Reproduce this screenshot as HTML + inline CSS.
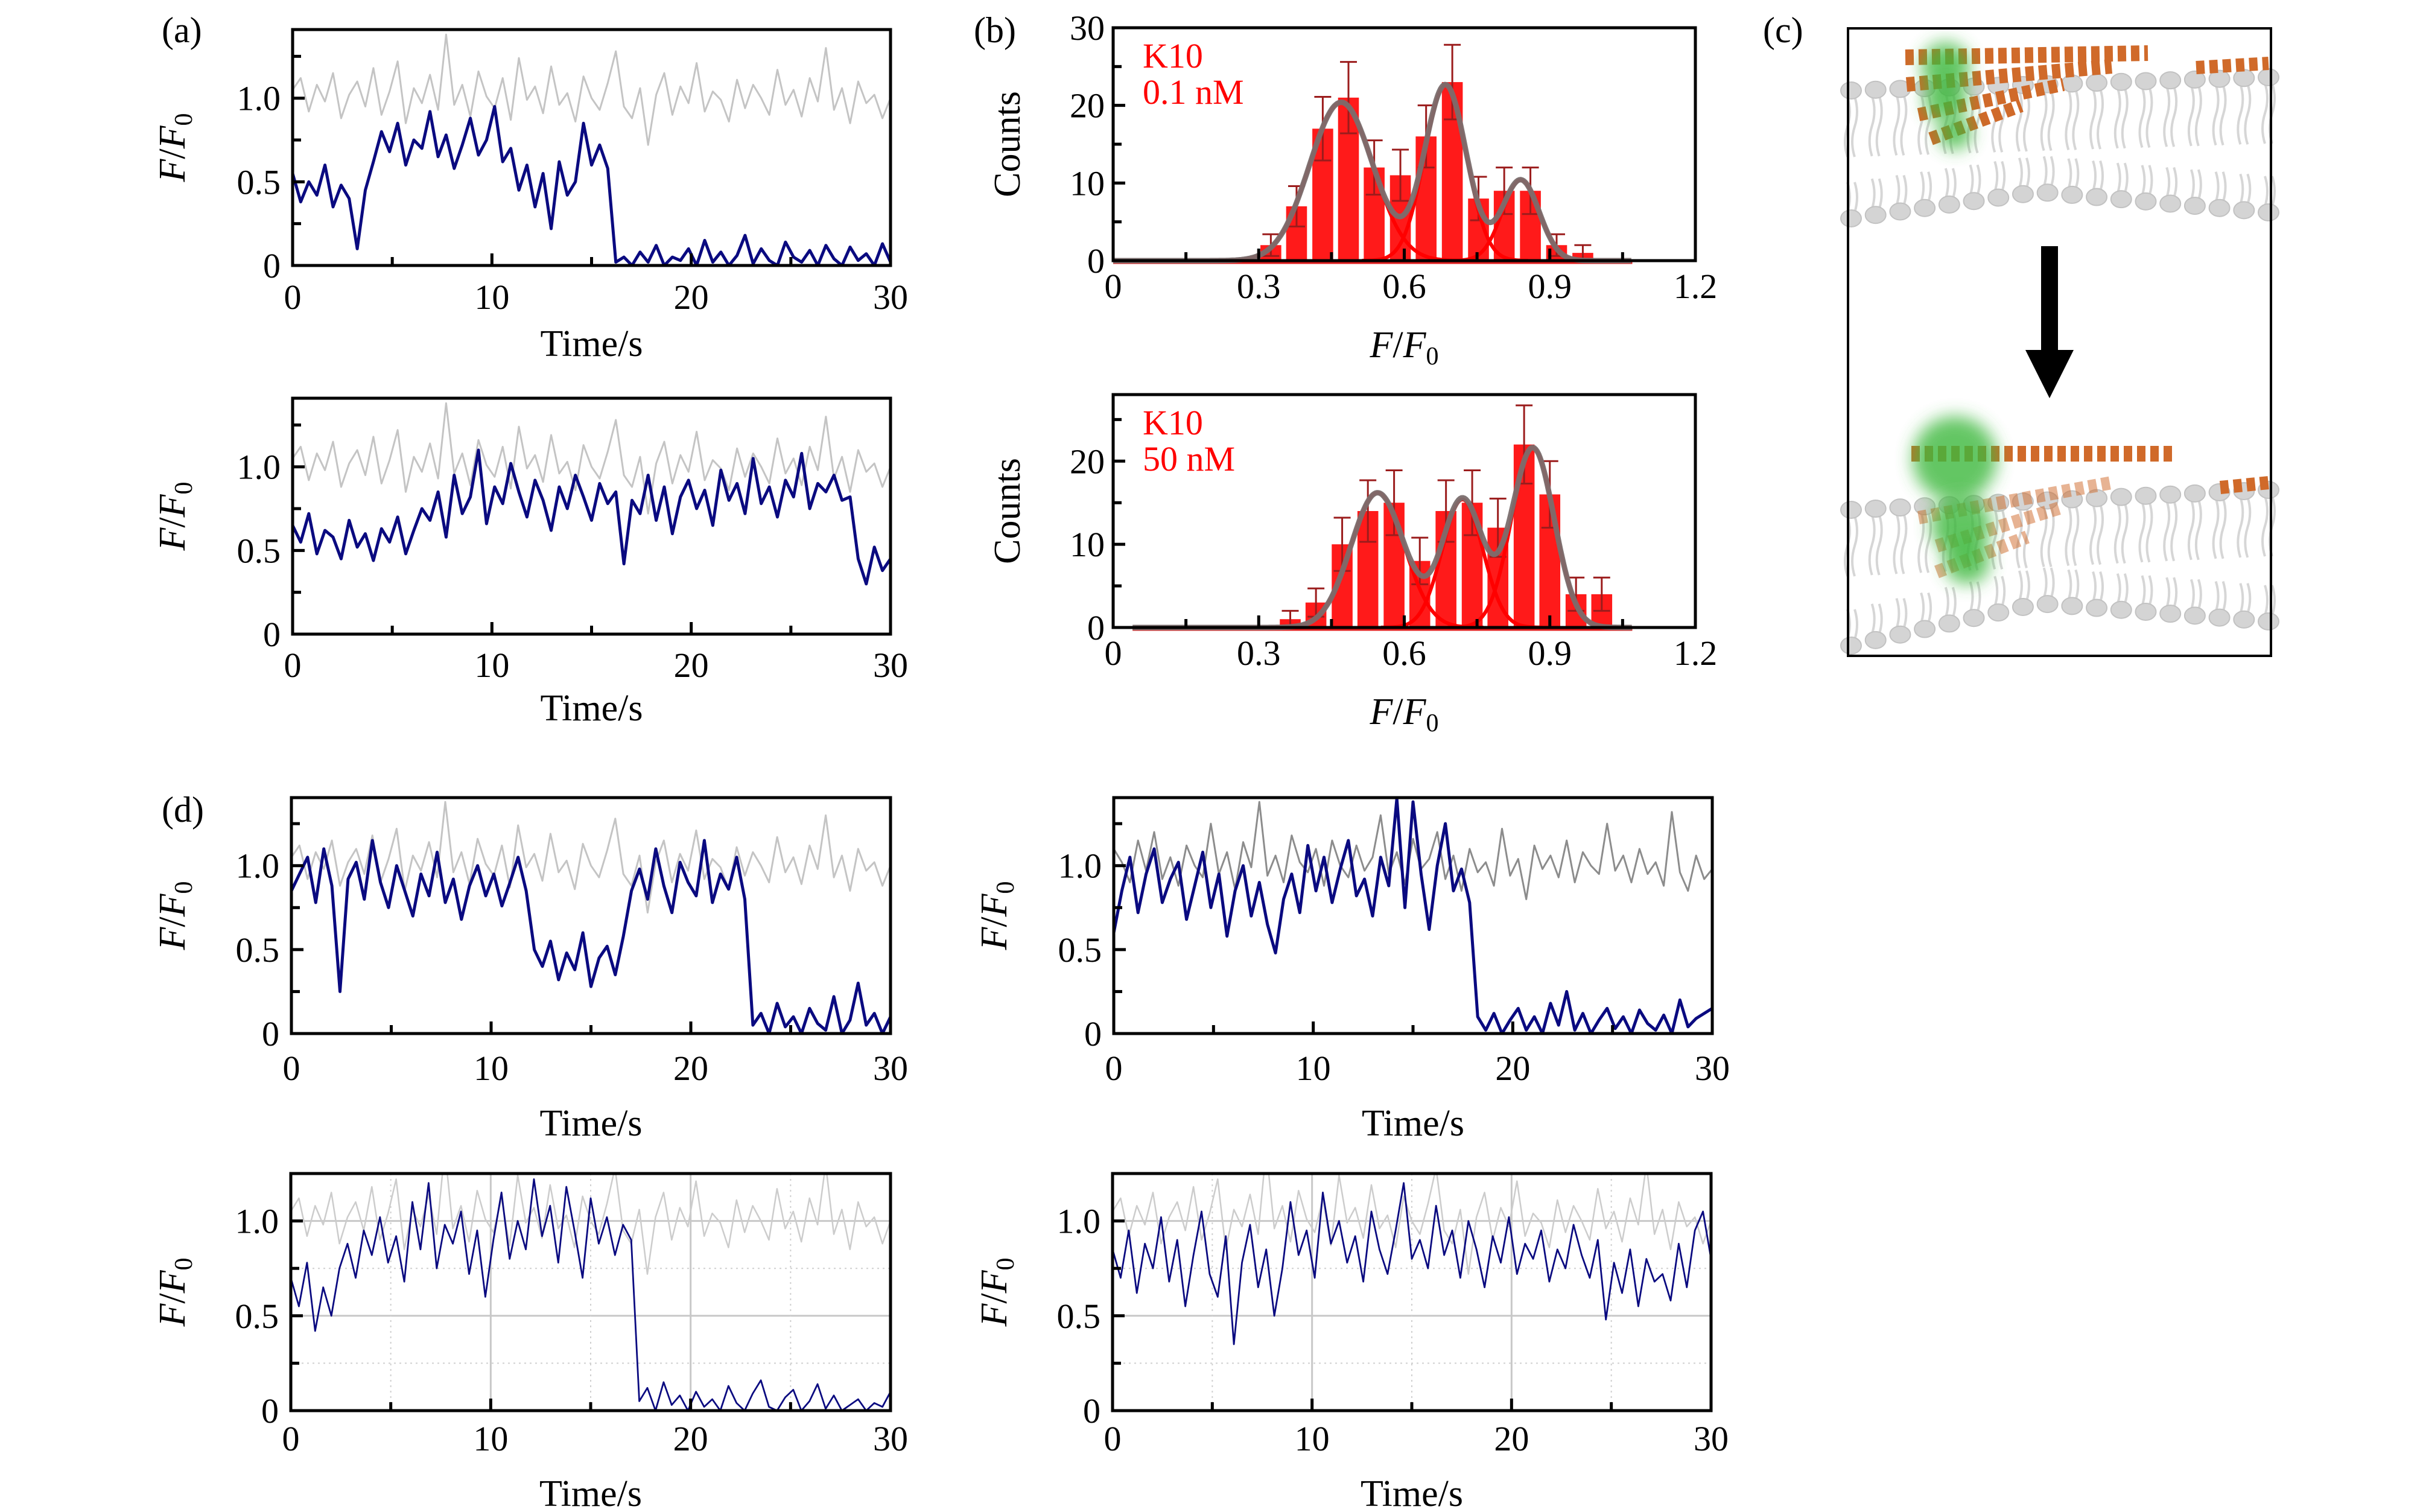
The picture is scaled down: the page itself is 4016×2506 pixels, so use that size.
<!DOCTYPE html>
<html><head><meta charset="utf-8"><style>
html,body{margin:0;padding:0;background:#fff}
svg{display:block}
text{font-family:"Liberation Serif",serif;fill:#000}
</style></head><body>
<svg id="fig" xmlns="http://www.w3.org/2000/svg" width="4016" height="2506" viewBox="0 0 4016 2506">
<defs>
<filter id="blur" x="-50%" y="-50%" width="200%" height="200%"><feGaussianBlur stdDeviation="14"/></filter>
</defs>
<g id="root"></g>
</svg>
<script>
// ---------- data ----------
const grayTrace = [1.05,1.12,0.92,1.08,0.98,1.15,0.88,1.02,1.10,0.95,1.18,0.90,1.04,1.22,0.85,1.06,0.97,1.14,0.93,1.38,0.96,1.08,0.89,1.16,1.01,0.94,1.12,0.87,1.24,0.99,1.07,0.91,1.19,0.96,1.03,0.86,1.13,1.00,0.93,1.09,1.28,0.95,0.88,1.06,0.72,1.02,1.15,0.90,1.07,0.97,1.21,0.92,1.04,0.99,0.86,1.11,0.94,1.08,1.00,0.90,1.17,0.96,1.05,0.89,1.12,0.98,1.30,0.93,1.06,0.85,1.10,0.97,1.02,0.88,1.00];
const grayTraceD2 = [1.10,1.02,0.90,1.15,0.97,1.20,0.92,1.05,0.88,1.12,1.00,0.93,1.25,0.95,1.08,0.86,1.14,0.99,1.38,0.94,1.06,0.90,1.18,1.02,0.96,1.10,0.88,1.15,1.00,0.93,1.12,0.97,1.05,1.30,0.95,1.08,0.89,1.16,0.98,1.04,1.20,0.92,1.06,0.85,1.10,0.96,1.02,0.88,1.22,0.94,1.04,0.80,1.12,0.98,1.06,0.93,1.15,0.90,1.08,1.00,0.95,1.25,0.97,1.06,0.90,1.10,0.95,1.02,0.88,1.32,0.96,0.85,1.06,0.92,0.98];
const traceA1 = [0.55,0.38,0.50,0.42,0.60,0.35,0.48,0.40,0.10,0.45,0.62,0.80,0.68,0.85,0.60,0.75,0.70,0.92,0.65,0.78,0.58,0.72,0.88,0.66,0.75,0.95,0.62,0.70,0.45,0.60,0.35,0.55,0.22,0.62,0.42,0.50,0.85,0.60,0.72,0.58,0.02,0.05,0.00,0.08,0.02,0.12,0.00,0.05,0.03,0.10,0.00,0.15,0.02,0.08,0.00,0.06,0.18,0.01,0.10,0.03,0.00,0.14,0.05,0.02,0.09,0.00,0.12,0.04,0.00,0.11,0.03,0.07,0.00,0.13,0.02];
const traceA2 = [0.65,0.55,0.72,0.48,0.62,0.58,0.45,0.68,0.52,0.60,0.44,0.63,0.55,0.70,0.48,0.62,0.75,0.68,0.85,0.58,0.95,0.72,0.82,1.10,0.66,0.88,0.78,1.02,0.85,0.70,0.92,0.80,0.62,0.88,0.75,0.95,0.82,0.68,0.90,0.78,0.85,0.42,0.80,0.72,0.95,0.68,0.88,0.60,0.82,0.92,0.75,0.86,0.65,0.98,0.80,0.90,0.72,1.05,0.78,0.88,0.70,0.92,0.82,1.08,0.75,0.90,0.85,0.95,0.80,0.82,0.45,0.30,0.52,0.38,0.45];
const traceD1 = [0.85,0.95,1.05,0.78,1.10,0.88,0.25,0.92,1.02,0.80,1.15,0.90,0.75,1.00,0.85,0.70,0.95,0.82,1.08,0.78,0.92,0.68,0.88,1.00,0.82,0.95,0.76,0.90,1.05,0.85,0.50,0.40,0.55,0.32,0.48,0.38,0.60,0.28,0.45,0.52,0.35,0.58,0.85,0.98,0.80,1.10,0.88,0.72,1.02,0.90,0.82,1.15,0.78,0.95,0.86,1.05,0.80,0.05,0.12,0.00,0.18,0.04,0.10,0.00,0.15,0.06,0.02,0.22,0.00,0.08,0.30,0.05,0.12,0.00,0.10];
const traceD2 = [0.60,0.85,1.05,0.72,0.95,1.10,0.78,0.92,1.02,0.68,0.88,1.08,0.75,0.95,0.58,0.85,1.00,0.70,0.90,0.65,0.48,0.80,0.95,0.72,1.12,0.85,1.05,0.78,0.98,1.15,0.82,0.92,0.70,1.05,0.88,1.40,0.75,1.38,0.95,0.62,1.00,1.25,0.85,0.98,0.78,0.10,0.02,0.12,0.00,0.08,0.15,0.02,0.10,0.00,0.18,0.05,0.25,0.02,0.12,0.00,0.08,0.15,0.03,0.10,0.00,0.14,0.06,0.02,0.11,0.00,0.20,0.04,0.09,0.12,0.15];
const traceD3 = [0.70,0.55,0.78,0.42,0.65,0.50,0.75,0.88,0.70,0.95,0.82,1.02,0.78,0.92,0.68,1.10,0.85,1.20,0.75,0.98,0.88,1.05,0.72,0.95,0.60,0.90,1.15,0.80,1.00,0.85,1.22,0.92,1.08,0.78,1.18,0.95,0.70,1.12,0.88,1.02,0.82,0.98,0.90,0.05,0.12,0.00,0.15,0.03,0.08,0.00,0.10,0.02,0.06,0.00,0.13,0.04,0.00,0.09,0.16,0.02,0.00,0.07,0.11,0.00,0.05,0.14,0.01,0.08,0.00,0.03,0.06,0.00,0.04,0.02,0.10];
const traceD4 = [0.85,0.70,0.95,0.62,0.88,0.75,1.02,0.68,0.90,0.55,0.82,1.05,0.72,0.60,0.92,0.35,0.78,0.98,0.65,0.85,0.50,0.75,1.10,0.82,0.95,0.70,1.15,0.88,1.00,0.78,0.92,0.68,1.05,0.85,0.72,0.95,1.20,0.80,0.90,0.75,1.08,0.82,0.95,0.70,1.00,0.85,0.65,0.92,0.78,1.02,0.72,0.88,0.80,0.95,0.68,0.85,0.75,0.98,0.82,0.70,0.90,0.48,0.78,0.62,0.85,0.55,0.80,0.68,0.72,0.58,0.88,0.65,0.95,1.05,0.80];
const timeTicks = [0,10,20,30];
const timeMinor = [5,15,25];
const fTicks = [0,0.5,1.0];
const fTickLabels = ["0","0.5","1.0"];
const fMinor = [0.25,0.75,1.25];

const hist1Centers = [0.325,0.378,0.432,0.485,0.538,0.592,0.645,0.699,0.753,0.806,0.860,0.914,0.968];
const hist1Counts = [2,7,17,21,12,11,16,23,8,9,9,2,1];
const hist1Err = [1.4,2.6,4.1,4.6,3.5,3.3,4.0,4.8,2.8,3.0,3.0,1.4,1.0];
const fit1Mu = [0.47,0.685,0.84];
const fit1Amp = [20.4,22.6,10.4];
const fit1Sd = [0.065,0.043,0.038];
const hist2Centers = [0.365,0.418,0.472,0.525,0.579,0.632,0.686,0.740,0.793,0.847,0.900,0.954,1.007];
const hist2Counts = [1,3,10,14,15,8,14,15,12,22,16,4,4];
const hist2Err = [1.0,1.7,3.2,3.7,3.9,2.8,3.7,3.9,3.5,4.7,4.0,2.0,2.0];
const fit2Mu = [0.545,0.72,0.865];
const fit2Amp = [16.2,15.4,21.6];
const fit2Sd = [0.055,0.042,0.044];
const histXTicks = [0,0.3,0.6,0.9,1.2];
const histXLabels = ["0","0.3","0.6","0.9","1.2"];
const histXMinor = [0.15,0.45,0.75,1.05];

// ---------- helpers ----------
const NS = "http://www.w3.org/2000/svg";
const root = document.getElementById("root");
function mk(tag, attrs, parent){
  const e = document.createElementNS(NS, tag);
  for (const k in attrs) e.setAttribute(k, attrs[k]);
  (parent||root).appendChild(e);
  return e;
}
let clipId = 0;
const TF = 58, LF = 62;

function yLabelFF(g, x, y, name){
  const t = mk("text", {x:x, y:y, "font-size":LF, "text-anchor":"middle", transform:`rotate(-90 ${x} ${y})`}, g);
  
  
  t.innerHTML = '<tspan font-style="italic">F</tspan>/<tspan font-style="italic">F</tspan><tspan font-size="42" dy="12">0</tspan>';
  return t;
}

function tracePanel(p){
  const g = mk("g", {});
  
  
  const sx = v => p.L + v/30*(p.R-p.L);
  const sy = v => p.B - v/p.ymax*(p.B-p.T);
  const id = "clip" + (clipId++);
  const cp = mk("clipPath", {id:id}, g);
  mk("rect", {x:p.L, y:p.T, width:p.R-p.L, height:p.B-p.T}, cp);
  if (p.grid){
    [0.5,1.0].forEach(v=>{
      const l = mk("line",{x1:p.L,x2:p.R,y1:sy(v),y2:sy(v),stroke:"#c8c8c8","stroke-width":3},g);
      
      
    });
    [0.25,0.75].forEach(v=>{
      const l = mk("line",{x1:p.L,x2:p.R,y1:sy(v),y2:sy(v),stroke:"#d0d0d0","stroke-width":2,"stroke-dasharray":"3 6"},g);
      
      
    });
    [10,20].forEach(v=>{
      const l = mk("line",{x1:sx(v),x2:sx(v),y1:p.T,y2:p.B,stroke:"#c8c8c8","stroke-width":3},g);
      
      
    });
    timeMinor.forEach(v=>{
      const l = mk("line",{x1:sx(v),x2:sx(v),y1:p.T,y2:p.B,stroke:"#d0d0d0","stroke-width":2,"stroke-dasharray":"3 6"},g);
      
      
    });
  }
  const series = [[p.gray, p.grayColor, p.grayW, 'reference-trace'], [p.data, '#0a0a80', p.lw, 'fluorescence-trace']];
  series.forEach(s=>{
    const arr = s[0];
    const pts = arr.map((v,i)=> sx(i*30/(arr.length-1)).toFixed(1)+","+sy(v).toFixed(1)).join(" ");
    const pl = mk("polyline",{points:pts, fill:"none", stroke:s[1], "stroke-width":s[2], "stroke-linejoin":"round", "clip-path":`url(#${id})`}, g);
    
    
  });
  timeTicks.forEach((v,i)=>{
    const t = mk("line",{x1:sx(v),x2:sx(v),y1:p.B,y2:p.B-20,stroke:"#000","stroke-width":5},g);
    
    
    const lb = mk("text",{x:sx(v), y:p.tickY, "font-size":TF, "text-anchor":"middle"},g);
    
    
    lb.textContent = String(v);
  });
  timeMinor.forEach(v=>{
    const t = mk("line",{x1:sx(v),x2:sx(v),y1:p.B,y2:p.B-14,stroke:"#000","stroke-width":5},g);
    
    
  });
  fTicks.forEach((v,i)=>{
    const t = mk("line",{x1:p.L,x2:p.L+20,y1:sy(v),y2:sy(v),stroke:"#000","stroke-width":5},g);
    
    
    const lb = mk("text",{x:p.L-20, y:sy(v)+20, "font-size":TF, "text-anchor":"end"},g);
    
    
    lb.textContent = fTickLabels[i];
  });
  fMinor.forEach(v=>{
    if (v > p.ymax) return;
    const t = mk("line",{x1:p.L,x2:p.L+14,y1:sy(v),y2:sy(v),stroke:"#000","stroke-width":5},g);
    
    
  });
  const fr = mk("rect",{x:p.L,y:p.T,width:p.R-p.L,height:p.B-p.T,fill:"none",stroke:"#000","stroke-width":5},g);
  
  
  const xl = mk("text",{x:(p.L+p.R)/2, y:p.labY, "font-size":LF, "text-anchor":"middle"},g);
  
  
  xl.textContent = "Time/s";
  yLabelFF(g, p.ylabX, (p.T+p.B)/2, 'y-axis-title');
}

function histPanel(p){
  const g = mk("g", {});
  
  
  const sx = v => p.L + v/1.2*(p.R-p.L);
  const sy = v => p.B - v/p.ymax*(p.B-p.T);
  const bw = 0.043;
  p.centers.forEach((c,i)=>{
    const r = mk("rect",{x:sx(c-bw/2), y:sy(p.counts[i]), width:sx(bw)-sx(0), height:p.B-sy(p.counts[i]), fill:"#ff1a1a"},g);
    
    
  });
  p.centers.forEach((c,i)=>{
    const x = sx(c), y1 = sy(p.counts[i]-p.err[i]), y2 = sy(p.counts[i]+p.err[i]);
    const e = mk("path",{d:`M${x},${y1}V${y2}M${x-14},${y2}H${x+14}M${x-14},${y1}H${x+14}`, stroke:"#9b1c1c","stroke-width":3,fill:"none"},g);
    
    
  });
  const gauss = (x,k)=> p.amp[k]*Math.exp(-0.5*Math.pow((x-p.mu[k])/p.sd[k],2));
  for (let k=0;k<p.mu.length;k++){
    let d="";
    for (let x=p.mu[k]-4*p.sd[k]; x<=p.mu[k]+4*p.sd[k]; x+=0.003) d += (d?"L":"M")+sx(x).toFixed(1)+","+sy(gauss(x,k)).toFixed(1);
    const c = mk("path",{d:d,fill:"none",stroke:"#ff0000","stroke-width":6},g);
    
    
  }
  let d="";
  for (let x=p.fitStart; x<=1.07; x+=0.003){ let s=0; for(let k=0;k<p.mu.length;k++) s+=gauss(x,k); d += (d?"L":"M")+sx(x).toFixed(1)+","+sy(s).toFixed(1); }
  const base = mk("line",{x1:sx(p.fitStart),x2:sx(1.07),y1:p.B+3,y2:p.B+3,stroke:"#e02020","stroke-width":5},g);
  
  
  const tot = mk("path",{d:d,fill:"none",stroke:"#7a6e6e","stroke-width":9,"stroke-opacity":0.95},g);
  
  
  histXTicks.forEach((v,i)=>{
    const t = mk("line",{x1:sx(v),x2:sx(v),y1:p.B,y2:p.B-20,stroke:"#000","stroke-width":5},g);
    
    
    const lb = mk("text",{x:sx(v), y:p.tickY, "font-size":TF, "text-anchor":"middle"},g);
    
    
    lb.textContent = histXLabels[i];
  });
  histXMinor.forEach(v=>{
    const t = mk("line",{x1:sx(v),x2:sx(v),y1:p.B,y2:p.B-14,stroke:"#000","stroke-width":5},g);
    
    
  });
  for (let v=0; v<=p.ymax; v+=5){
    const major = v%10===0;
    const t = mk("line",{x1:p.L,x2:p.L+(major?20:14),y1:sy(v),y2:sy(v),stroke:"#000","stroke-width":5},g);
    
    
    if (major){
      const lb = mk("text",{x:p.L-14, y:sy(v)+20, "font-size":TF, "text-anchor":"end"},g);
      
      
      lb.textContent = String(v);
    }
  }
  const fr = mk("rect",{x:p.L,y:p.T,width:p.R-p.L,height:p.B-p.T,fill:"none",stroke:"#000","stroke-width":5},g);
  
  
  const xl = mk("text",{x:(p.L+p.R)/2, y:p.labY, "font-size":LF, "text-anchor":"middle"},g);
  
  
  xl.innerHTML = '<tspan font-style="italic">F</tspan>/<tspan font-style="italic">F</tspan><tspan font-size="42" dy="12">0</tspan>';
  const yc = (p.T+p.B)/2;
  const yl = mk("text",{x:1690, y:yc, "font-size":LF, "text-anchor":"middle", transform:`rotate(-90 1690 ${yc})`},g);
  
  
  yl.textContent = "Counts";
  const l1 = mk("text",{x:1894, y:p.T+66, "font-size":58, style:"fill:#ff0000"},g);
  
  
  l1.textContent = "K10";
  const l2 = mk("text",{x:1894, y:p.T+126, "font-size":58, style:"fill:#ff0000"},g);
  
  
  l2.textContent = p.conc;
}

// ---------- panels ----------
tracePanel({name:'panel-a-trace-1', L:485,R:1476,T:49,B:440, ymax:1.41, data:traceA1, gray:grayTrace, grayColor:'#c4c4c4', grayW:3, lw:5, tickY:512, labY:590, ylabX:306});
tracePanel({name:'panel-a-trace-2', L:485,R:1476,T:660,B:1051, ymax:1.41, data:traceA2, gray:grayTrace, grayColor:'#c4c4c4', grayW:3, lw:5, tickY:1122, labY:1194, ylabX:306});
histPanel({name:'panel-b-hist-0.1nM', L:1845,R:2810,T:46,B:432, ymax:30, centers:hist1Centers, counts:hist1Counts, err:hist1Err, mu:fit1Mu, amp:fit1Amp, sd:fit1Sd, fitStart:0.0, tickY:494, labY:592, conc:"0.1 nM"});
histPanel({name:'panel-b-hist-50nM', L:1845,R:2810,T:654,B:1040, ymax:28, centers:hist2Centers, counts:hist2Counts, err:hist2Err, mu:fit2Mu, amp:fit2Amp, sd:fit2Sd, fitStart:0.04, tickY:1102, labY:1200, conc:"50 nM"});
tracePanel({name:'panel-d-trace-1', L:483,R:1476,T:1322,B:1713, ymax:1.405, data:traceD1, gray:grayTrace, grayColor:'#c4c4c4', grayW:3, lw:5, tickY:1790, labY:1882, ylabX:306});
tracePanel({name:'panel-d-trace-2', L:1846,R:2838,T:1322,B:1713, ymax:1.405, data:traceD2, gray:grayTraceD2, grayColor:'#8c8c8c', grayW:3, lw:5, tickY:1790, labY:1882, ylabX:1668});
tracePanel({name:'panel-d-trace-3', L:482,R:1476,T:1945,B:2338, ymax:1.25, data:traceD3, gray:grayTrace, grayColor:'#cccccc', grayW:2.5, lw:2.8, tickY:2404, labY:2496, ylabX:306, grid:true});
tracePanel({name:'panel-d-trace-4', L:1844,R:2836,T:1945,B:2338, ymax:1.25, data:traceD4, gray:grayTrace, grayColor:'#cccccc', grayW:2.5, lw:2.8, tickY:2404, labY:2496, ylabX:1668, grid:true});

[["(a)",268,70,'panel-label-a'],["(b)",1614,70,'panel-label-b'],["(c)",2922,70,'panel-label-c'],["(d)",268,1362,'panel-label-d']].forEach(a=>{
  const t = mk("text",{x:a[1], y:a[2], "font-size":60});
  
  
  t.textContent = a[0];
});

// ---------- illustration (c) ----------
const ill = mk("g",{});


function membrane(yTopL, yTopR, yBotL, yBotMid, yBotR, name){
  const g = mk("g",{}, ill);
  
  
  const n = 18;
  for (let i=0;i<n;i++){
    const x = 3068 + i*(3760-3068)/(n-1);
    const f = i/(n-1);
    const yt = yTopL + (yTopR-yTopL)*f;
    const yb = f<0.45 ? yBotL + (yBotMid-yBotL)*(f/0.45) : yBotMid + (yBotR-yBotMid)*((f-0.45)/0.55);
    const tails = mk("path",{d:`M${x-6},${yt+10} q8,25 0,50 q-8,25 0,50 M${x+6},${yt+10} q8,25 0,50 q-8,25 0,50 M${x-6},${yb-10} q8,-25 0,-50 M${x+6},${yb-10} q8,-25 0,-50`, stroke:"#d6d6d6","stroke-width":4,fill:"none"}, g);
    
    
    const h1 = mk("ellipse",{cx:x, cy:yt, rx:17, ry:14, fill:"#d4d4d4", stroke:"#c2c2c2","stroke-width":2}, g);
    
    
    const h2 = mk("ellipse",{cx:x, cy:yb, rx:17, ry:14, fill:"#d4d4d4", stroke:"#c2c2c2","stroke-width":2}, g);
    
    
  }
}
membrane(150, 128, 362, 318, 352, 'membrane-top');
membrane(845, 812, 1070, 1000, 1030, 'membrane-bottom');
function helix(x1,y1,x2,y2,w,op,name){
  const h = mk("line",{x1:x1,y1:y1,x2:x2,y2:y2,stroke:"#d06a2a","stroke-width":w,"stroke-dasharray":"14 8","opacity":op}, ill);
  
  
}
helix(3158,95,3560,88,26,1,'peptide-helix');
helix(3160,140,3500,110,24,1,'peptide-helix');
helix(3180,190,3420,140,22,1,'peptide-helix');
helix(3200,230,3350,175,22,1,'peptide-helix');
helix(3640,112,3760,105,22,1,'peptide-helix');
helix(3168,752,3600,752,26,1,'peptide-helix');
helix(3680,808,3760,800,22,1,'peptide-helix');
helix(3180,858,3500,800,22,0.5,'peptide-helix');
helix(3210,905,3420,840,22,0.5,'peptide-helix');
helix(3210,948,3360,890,22,0.5,'peptide-helix');
[[3225,110,40],[3225,165,36],[3240,220,28],[3240,760,70],[3250,870,50],[3260,930,38]].forEach(c=>{
  const b = mk("circle",{cx:c[0],cy:c[1],r:c[2],fill:"#3db83d",opacity:0.8,filter:"url(#blur)"}, ill);
  
  
});
const arrow = mk("path",{d:"M3383,408 H3411 V580 H3437 L3397,660 L3357,580 H3383 Z", fill:"#000"}, ill);


const box = mk("rect",{x:3063,y:47,width:701,height:1040,fill:"none",stroke:"#000","stroke-width":4}, ill);


</script>
</body></html>
